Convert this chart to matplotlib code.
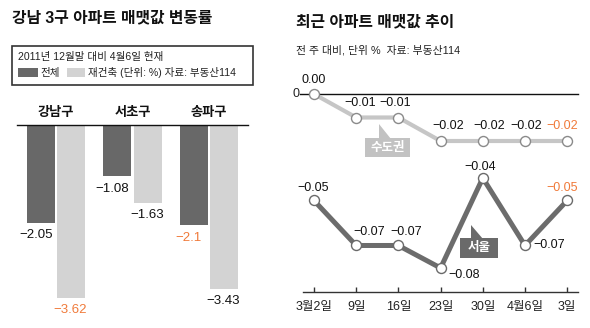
import matplotlib
matplotlib.use("Agg")
import matplotlib.pyplot as plt
from matplotlib.patches import Rectangle, Polygon
import numpy as np

plt.rcParams['font.family'] = ['Liberation Sans', 'Noto Sans CJK KR', 'DejaVu Sans']

# ---------------- data ----------------
districts = ['강남구', '서초구', '송파구']
total_change = [-2.05, -1.08, -2.1]
rebuild_change = [-3.62, -1.63, -3.43]
total_labels = ['−2.05', '−1.08', '−2.1']
rebuild_labels = ['−3.62', '−1.63', '−3.43']
total_highlight = [False, False, True]
rebuild_highlight = [True, False, False]

weeks = ['3월2일', '9일', '16일', '23일', '30일', '4월6일', '3일']
metro = [0.00, -0.01, -0.01, -0.02, -0.02, -0.02, -0.02]
seoul = [-0.05, -0.07, -0.07, -0.08, -0.04, -0.07, -0.05]
metro_labels = ['0.00', '−0.01', '−0.01', '−0.02', '−0.02', '−0.02', '−0.02']
seoul_labels = ['−0.05', '−0.07', '−0.07', '−0.08', '−0.04', '−0.07', '−0.05']

# ---------------- styles ----------------
DARK = '#686868'
LIGHT = '#d3d3d3'
ORANGE = '#f07a3a'
METRO_C = '#c6c6c6'
SEOUL_C = '#6c6c6c'
W, H = 590, 328
PT = 0.72  # points per pixel at dpi 100

fig = plt.figure(figsize=(W / 100, H / 100), dpi=100)


def fx(px):
    return px / W


def fy(py):
    return 1 - py / H


# ---------------- titles ----------------
fig.text(fx(12), fy(18), '강남 3구 아파트 매맷값 변동률', fontsize=11.4, fontweight='bold',
         va='center', ha='left', color='#111111')
fig.text(fx(296), fy(22), '최근 아파트 매맷값 추이', fontsize=11.4, fontweight='bold',
         va='center', ha='left', color='#111111')
fig.text(fx(296), fy(50), '전 주 대비, 단위 %  자료: 부동산114', fontsize=7.8,
         va='center', ha='left', color='#222222')

# legend box
fig.patches.append(Rectangle((fx(12), fy(85)), fx(253) - fx(12), fy(46) - fy(85),
                             transform=fig.transFigure, fill=False, edgecolor='#333333', lw=1.2))
fig.text(fx(18), fy(57), '2011년 12월말 대비 4월6일 현재', fontsize=7.6, va='center', ha='left',
         color='#222222')
fig.patches.append(Rectangle((fx(18), fy(77)), fx(38) - fx(18), fy(68) - fy(77),
                             transform=fig.transFigure, facecolor=DARK, edgecolor='none'))
fig.text(fx(40), fy(73), '전체', fontsize=7.6, va='center', ha='left', color='#222222')
fig.patches.append(Rectangle((fx(67), fy(77)), fx(85) - fx(67), fy(68) - fy(77),
                             transform=fig.transFigure, facecolor=LIGHT, edgecolor='none'))
fig.text(fx(88), fy(73), '재건축 (단위: %) 자료: 부동산114', fontsize=7.6, va='center', ha='left',
         color='#222222')

# ---------------- left: bar chart ----------------
ax1 = fig.add_axes([fx(17), fy(310), fx(248) - fx(17), fy(125) - fy(310)])
x = np.arange(len(districts))
off, bw = 0.2, 0.37
ax1.bar(x - off, total_change, width=bw, color=DARK, zorder=2)
ax1.bar(x + off, rebuild_change, width=bw, color=LIGHT, zorder=2)
ax1.set_xlim(-0.51, 2.51)
ax1.set_ylim(-3.88, 0)
for s in ['left', 'right', 'bottom']:
    ax1.spines[s].set_visible(False)
ax1.spines['top'].set_color('#111111')
ax1.spines['top'].set_linewidth(1.0)
ax1.set_xticks([])
ax1.set_yticks([])
ax1.patch.set_alpha(0)

for i, name in enumerate(districts):
    ax1.annotate(name, (i, 0), xytext=(0, 12 * PT), textcoords='offset points',
                 ha='center', va='center', fontsize=9.5, fontweight='bold', color='#111111',
                 annotation_clip=False)
    ax1.annotate(total_labels[i], (i - off, total_change[i]), xytext=(-5 * PT, -12.5 * PT),
                 textcoords='offset points', ha='center', va='center', fontsize=9.5,
                 color=ORANGE if total_highlight[i] else '#111111', annotation_clip=False)
    ax1.annotate(rebuild_labels[i], (i + off, rebuild_change[i]), xytext=(-1 * PT, -12.5 * PT),
                 textcoords='offset points', ha='center', va='center', fontsize=9.5,
                 color=ORANGE if rebuild_highlight[i] else '#111111', annotation_clip=False)

# ---------------- right: line chart ----------------
ax2 = fig.add_axes([fx(303), fy(292), fx(578) - fx(303), fy(60) - fy(292)])
ax2.set_xlim(-0.26, 6.256)
ax2.set_ylim(-0.09067, 0.01244)
ax3 = ax2.twinx()
ax3.set_ylim(-0.08426, 0.01447)

for a in (ax2, ax3):
    for s in ['left', 'right', 'top', 'bottom']:
        a.spines[s].set_visible(False)
    a.set_yticks([])
    a.patch.set_alpha(0)
ax2.spines['bottom'].set_visible(True)
ax2.spines['bottom'].set_color('#333333')
ax2.spines['bottom'].set_linewidth(1.0)
xi = np.arange(len(weeks))
ax2.set_xticks(xi)
ax2.set_xticklabels(weeks, fontsize=9, color='#222222')
ax2.tick_params(axis='x', direction='in', length=5 * PT, width=1, color='#333333', pad=6.5)

# zero line
ax3.plot([-0.33, 6.256], [0, 0], color='#111111', lw=1.0, clip_on=False, zorder=1)
ax3.text(-0.34, 0, '0', ha='right', va='center', fontsize=9, color='#222222')

ax3.plot(xi, metro, color=METRO_C, lw=3, marker='o', ms=7.2, mfc='white', mec='#8a8a8a',
         mew=1, clip_on=False, zorder=3)
ax2.plot(xi, seoul, color=SEOUL_C, lw=3.6, marker='o', ms=7.2, mfc='white', mec='#6a6a6a',
         mew=1, clip_on=False, zorder=3)

metro_off = [(0, 14), (4, 15), (-3, 15), (8, 15), (6, 15), (1, 15), (-5, 15)]
for i, lab in enumerate(metro_labels):
    dx, dy = metro_off[i]
    ax3.annotate(lab, (xi[i], metro[i]), xytext=(dx * PT, dy * PT), textcoords='offset points',
                 ha='center', va='center', fontsize=9,
                 color=ORANGE if i == len(metro) - 1 else '#111111', annotation_clip=False)

seoul_off = [(-1, 12, 'center'), (13, 13, 'center'), (8, 13, 'center'), (8, -7, 'left'),
             (-3, 11, 'center'), (8, 0, 'left'), (-5, 12, 'center')]
for i, lab in enumerate(seoul_labels):
    dx, dy, ha = seoul_off[i]
    ax2.annotate(lab, (xi[i], seoul[i]), xytext=(dx * PT, dy * PT), textcoords='offset points',
                 ha=ha, va='center', fontsize=9,
                 color=ORANGE if i == len(seoul) - 1 else '#111111', annotation_clip=False)


# callouts
def callout(x0, y0, x1, y1, tip, base, color, text):
    fig.patches.append(Rectangle((fx(x0), fy(y1)), fx(x1) - fx(x0), fy(y0) - fy(y1),
                                 transform=fig.transFigure, facecolor=color, edgecolor='none',
                                 zorder=5))
    pts = [(fx(tip[0]), fy(tip[1])), (fx(base[0]), fy(y0 + 1)), (fx(base[1]), fy(y0 + 1))]
    fig.patches.append(Polygon(pts, closed=True, transform=fig.transFigure, facecolor=color,
                               edgecolor='none', zorder=5))
    fig.text(fx((x0 + x1) / 2), fy((y0 + y1) / 2), text, ha='center', va='center',
             fontsize=9, color='white', fontweight='bold', zorder=6)


callout(365, 138, 410, 157, (379, 124), (379, 391), '#c2c2c2', '수도권')
callout(460, 238, 498, 258, (471, 225), (471, 483), '#6a6a6a', '서울')

fig.savefig('out.png', dpi=100)
